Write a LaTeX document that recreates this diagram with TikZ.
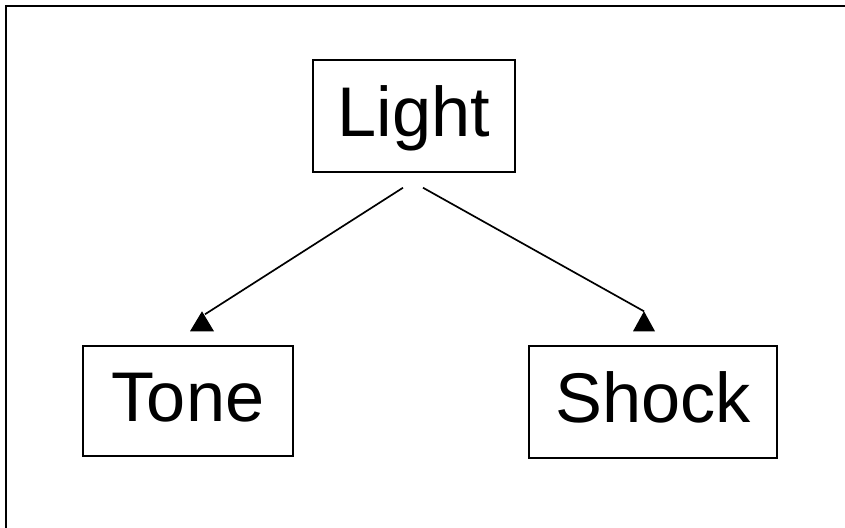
\documentclass[tikz,border=0pt]{standalone}
\usepackage{fontspec}
\setmainfont{Liberation Sans}
\usetikzlibrary{calc,positioning}

\begin{document}
\begin{tikzpicture}[x=0.025cm, y=-0.025cm,
    box/.style={draw,rectangle,line width=1pt,inner sep=0pt,minimum height=2.8cm,
                font=\fontsize{50}{60}\selectfont,text height=40pt,text depth=11pt},
    link/.style={line width=1.2pt},
    tip/.style={fill=black}]
              \useasboundingbox (0,0) rectangle (845,527);
              % frame, cut off at the right and the bottom
              \draw[line width=1.8pt] (6,540) -- (6,6) -- (850,6);

              \node[box,minimum width=5.05cm] (light) at (414,116) {Light};
              \node[box,minimum width=5.25cm,minimum height=2.75cm] (tone) at (188,401) {Tone};
              \node[box,minimum width=6.2cm] (shock) at (653,402) {Shock};

              \draw[link] ($(light.south)+(-11,15)$) -- ($(tone.north)+(17,-31)$) coordinate (t1);
              \draw[link] ($(light.south)+(9,15)$) -- ($(shock.north)+(-9,-34)$) coordinate (t2);
              \fill[tip] ($(tone.north)+(14,-34)$) -- ++(-12,20) -- ++(24,0) -- cycle;
              \fill[tip] ($(shock.north)+(-9,-34)$) -- ++(-11,20) -- ++(22,0) -- cycle;
            \end{tikzpicture}
\end{document}
